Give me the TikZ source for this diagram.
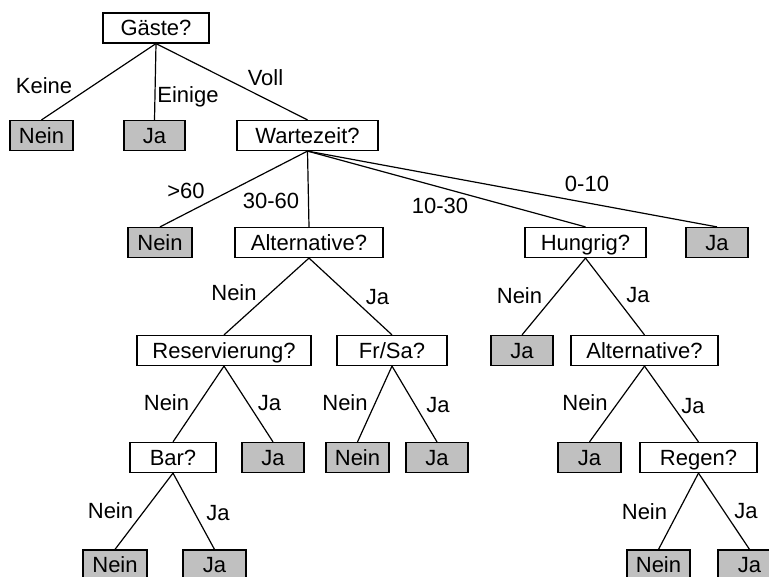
\documentclass[tikz,border=0pt]{standalone}
\usepackage{fontspec}
\setmainfont{Liberation Sans}
\definecolor{leafgray}{RGB}{192,192,192}
\tikzset{
  txt/.style={font=\fontsize{22}{24}\selectfont, text height=15.8pt, text depth=0pt, inner sep=0pt},
  box/.style={txt, draw, line width=1.2pt, minimum height=30pt, fill=white},
  leaf/.style={box, fill=leafgray},
  lbl/.style={txt},
  edge/.style={line width=1.2pt}
}
\begin{document}
\begin{tikzpicture}[x=1pt,y=-1pt]
\useasboundingbox (0,0) rectangle (769,577);
\clip (0,0) rectangle (769,577);
% level 0
\node[box, minimum width=106pt] (g) at (156,28) {Gäste?};
% level 1
\node[leaf, minimum width=63pt] (n1) at (41.5,135.5) {Nein};
\node[leaf, minimum width=61pt] (j1) at (154.5,135.5) {Ja};
\node[box, minimum width=141pt] (w) at (307.5,135.5) {Wartezeit?};
% level 2
\node[leaf, minimum width=64pt] (n2) at (160,242.5) {Nein};
\node[box, minimum width=148pt] (a1) at (309,242.5) {Alternative?};
\node[box, minimum width=121pt] (h) at (585.5,242.5) {Hungrig?};
\node[leaf, minimum width=62pt] (j2) at (717,242.5) {Ja};
% level 3
\node[box, minimum width=174pt] (r) at (224,350.5) {Reservierung?};
\node[box, minimum width=110pt] (f) at (392,350.5) {Fr/Sa?};
\node[leaf, minimum width=62pt] (j3) at (522,350.5) {Ja};
\node[box, minimum width=147pt] (a2) at (644.5,350.5) {Alternative?};
% level 4
\node[box, minimum width=86pt] (b) at (173,457.5) {Bar?};
\node[leaf, minimum width=62pt] (j4) at (273,457.5) {Ja};
\node[leaf, minimum width=63pt] (n3) at (357.5,457.5) {Nein};
\node[leaf, minimum width=62pt] (j5) at (437,457.5) {Ja};
\node[leaf, minimum width=63pt] (j6) at (589.5,457.5) {Ja};
\node[box, minimum width=117pt] (rg) at (698.5,457.5) {Regen?};
% level 5
\node[leaf, minimum width=64pt] (n4) at (115,565) {Nein};
\node[leaf, minimum width=63pt] (j7) at (214.5,565) {Ja};
\node[leaf, minimum width=63pt] (n5) at (658.5,565) {Nein};
\node[leaf, minimum width=63pt] (j8) at (749.5,565) {Ja};
% edges
\draw[edge] (g.south) -- (n1.north);
\draw[edge] (g.south) -- (j1.north);
\draw[edge] (g.south) -- (w.north);
\draw[edge] (w.south) -- (n2.north);
\draw[edge] (w.south) -- (a1.north);
\draw[edge] (w.south) -- (h.north);
\draw[edge] (w.south) -- (j2.north);
\draw[edge] (a1.south) -- (r.north);
\draw[edge] (a1.south) -- (f.north);
\draw[edge] (h.south) -- (j3.north);
\draw[edge] (h.south) -- (a2.north);
\draw[edge] (r.south) -- (b.north);
\draw[edge] (r.south) -- (j4.north);
\draw[edge] (f.south) -- (n3.north);
\draw[edge] (f.south) -- (j5.north);
\draw[edge] (a2.south) -- (j6.north);
\draw[edge] (a2.south) -- (rg.north);
\draw[edge] (b.south) -- (n4.north);
\draw[edge] (b.south) -- (j7.north);
\draw[edge] (rg.south) -- (n5.north);
\draw[edge] (rg.south) -- (j8.north);
% labels
\node[lbl] (l1) at (44,86) {Keine};
\node[lbl] (l2) at (188,94.5) {Einige};
\node[lbl] (l3) at (265.5,77.5) {Voll};
\node[lbl] (l4) at (186,191) {>60};
\node[lbl] (l5) at (271,201) {30-60};
\node[lbl] (l6) at (440,206) {10-30};
\node[lbl] (l7) at (587,184) {0-10};
\node[lbl] (l8) at (234,293) {Nein};
\node[lbl] (l9) at (377.5,297) {Ja};
\node[lbl] (l10) at (519.5,296) {Nein};
\node[lbl] (l11) at (638,295) {Ja};
\node[lbl] (l12) at (166.5,403) {Nein};
\node[lbl] (l13) at (269.5,403) {Ja};
\node[lbl] (l14) at (345,403) {Nein};
\node[lbl] (l15) at (438,405) {Ja};
\node[lbl] (l16) at (585,403) {Nein};
\node[lbl] (l17) at (693,406) {Ja};
\node[lbl] (l18) at (110.5,511) {Nein};
\node[lbl] (l19) at (218,513) {Ja};
\node[lbl] (l20) at (644.5,512) {Nein};
\node[lbl] (l21) at (746,511) {Ja};
\end{tikzpicture}
\end{document}
